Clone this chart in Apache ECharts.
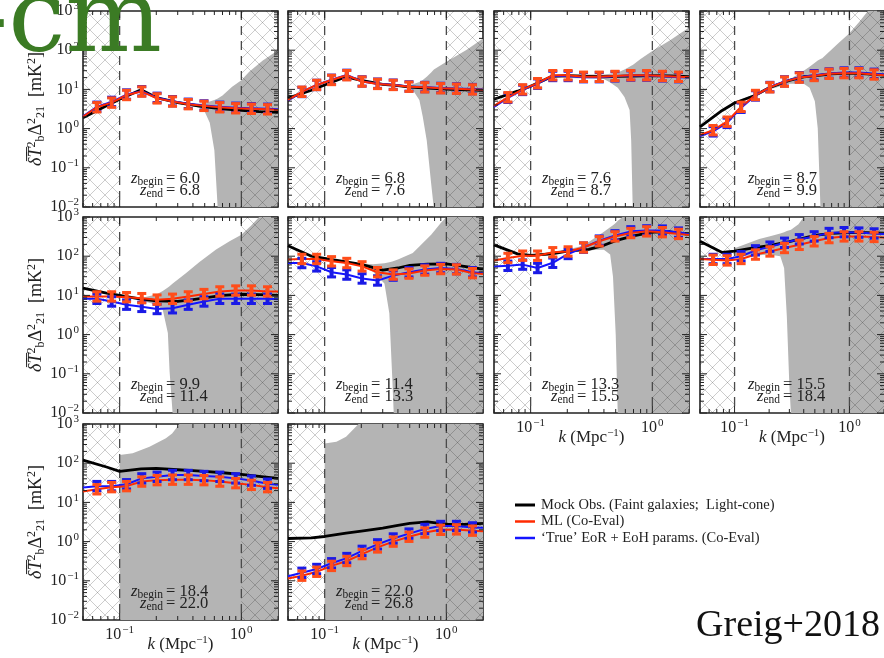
<!DOCTYPE html>
<html>
<head>
<meta charset="utf-8">
<script src="https://cdn.jsdelivr.net/npm/echarts@6/dist/echarts.min.js"></script>
<style>
  html, body { margin: 0; padding: 0; background: #fff; }
  #chart { width: 884px; height: 658px; }
</style>
</head>
<body>
<div id="chart"></div>
<script>
// ---- k sampling -------------------------------------------------------
const K_MIN = 0.05, K_MAX = 2.0;            // plotted k range (Mpc^-1)
const K_CUT_LO = 0.1, K_CUT_HI = 1.0;       // analysed k window
const K_BINS = [0.065, 0.086, 0.114, 0.152, 0.203, 0.272, 0.366, 0.493, 0.665, 0.898, 1.21, 1.64];
const K_LINE = [0.05, 0.065, 0.086, 0.114, 0.152, 0.203, 0.272, 0.366, 0.493, 0.665, 0.898, 1.21, 1.64, 2.0];
const K_MOCK = [0.05, 0.078, 0.1, 0.15, 0.2, 0.3, 0.4, 0.5, 0.7, 1.0, 1.4, 2.0];
const ERR_DEX = 0.12;                        // half-height of error bars (dex)

// ---- redshift slices ----------------------------------------------------
const Z_BEGIN = ['6.0', '6.8', '7.6', '8.7', '9.9', '11.4', '13.3', '15.5', '18.4', '22.0'];
const Z_END   = ['6.8', '7.6', '8.7', '9.9', '11.4', '13.3', '15.5', '18.4', '22.0', '26.8'];

// ---- power spectra (mK^2): ML / true on K_LINE, mock on K_MOCK ----------
const mlZ60   = [2.0, 3.5, 4.6, 7.2, 8.8, 5.9, 4.9, 4.2, 3.8, 3.5, 3.3, 3.2, 3.1, 3.0];
const trueZ60 = [2.05, 3.6, 4.8, 7.4, 9.0, 6.1, 5.0, 4.3, 3.9, 3.6, 3.4, 3.3, 3.2, 3.1];
const mockZ60 = [1.9, 3.8, 5.6, 9.8, 6.2, 4.6, 4.0, 3.6, 3.2, 2.9, 2.7, 2.6];

const mlZ68   = [5.4, 8.7, 13, 17.4, 23, 15.8, 13.8, 13, 11.7, 11.3, 10.7, 10.4, 10, 9.8];
const trueZ68 = [5.2, 8.6, 13, 17.6, 23.5, 16, 14, 13.2, 11.9, 11.5, 10.9, 10.6, 10.2, 10];
const mockZ68 = [6.0, 9.5, 13, 21, 17, 13.5, 12.5, 11.5, 10.8, 10.2, 9.8, 9.4];

const mlZ76   = [3.8, 6.3, 10, 14.4, 23, 23, 21, 21, 22, 23, 23, 22, 21, 20.5];
const trueZ76 = [3.6, 6.1, 9.7, 14, 22, 22, 20.5, 20.5, 21.5, 22.5, 22.5, 21.5, 20.5, 20];
const mockZ76 = [5.6, 9, 12, 21.5, 22.5, 21.5, 21, 21.5, 22, 22.5, 22, 21];

const mlZ87   = [0.69, 0.91, 1.5, 3.6, 7.2, 11.3, 15.8, 20, 22, 25, 26, 26, 24, 23];
const trueZ87 = [0.65, 0.85, 1.4, 3.4, 7.0, 11.5, 16, 20.5, 23, 25.5, 27, 27, 25, 24];
const mockZ87 = [1.1, 2.9, 4.5, 7.0, 11, 17, 21, 22, 25, 26, 25, 23];

const mlZ99   = [9.4, 9.4, 9.4, 9, 8.5, 7.8, 8.2, 9.4, 10.8, 12.6, 13.3, 13.3, 12.6, 12.5];
const trueZ99 = [8.2, 8.2, 7.0, 5.8, 5.1, 4.5, 4.7, 5.8, 7.0, 8.2, 8.2, 8.2, 8.2, 8.0];
const mockZ99 = [15.4, 11.5, 10, 8, 7.3, 7.0, 7.8, 8.6, 10, 10.7, 10.5, 10];

const mlZ114   = [82, 85, 85, 74, 67, 55, 39, 34, 36, 43, 47, 46, 37, 35];
const trueZ114 = [67, 67, 55, 39, 34, 27, 24, 32, 39, 46, 50, 47, 39, 37];
const mockZ114 = [185, 100, 88, 72, 62, 44, 50, 58, 63, 64, 55, 47];

const mlZ133   = [78, 90, 103, 103, 126, 132, 167, 240, 320, 390, 430, 410, 370, 350];
const trueZ133 = [55, 57, 61, 50, 68, 114, 165, 250, 340, 430, 455, 450, 400, 380];
const mockZ133 = [195, 115, 105, 115, 135, 150, 190, 250, 330, 410, 420, 360];

const mlZ155   = [85, 81, 78, 85, 110, 132, 162, 195, 240, 290, 320, 320, 310, 300];
const trueZ155 = [85, 85, 85, 100, 141, 175, 220, 270, 320, 390, 410, 400, 380, 370];
const mockZ155 = [240, 125, 135, 165, 185, 235, 290, 340, 380, 400, 400, 390];

const mlZ184   = [19, 21.6, 24.5, 26, 34, 37, 38, 38, 37, 34, 31, 28, 24.5, 23];
const trueZ184 = [24, 26, 26, 29, 41, 45, 50, 50, 47, 45, 41, 36, 30, 28];
const mockZ184 = [120, 80, 62, 72, 74, 68, 65, 62, 57, 52, 46, 41];

const mlZ220   = [0.115, 0.135, 0.17, 0.24, 0.32, 0.48, 0.71, 1.0, 1.33, 1.7, 2.0, 2.05, 1.9, 1.85];
const trueZ220 = [0.13, 0.16, 0.2, 0.28, 0.38, 0.58, 0.85, 1.2, 1.6, 2.1, 2.5, 2.5, 2.3, 2.25];
const mockZ220 = [1.2, 1.25, 1.35, 1.65, 1.85, 2.2, 2.6, 2.9, 3.2, 2.8, 2.75, 2.9];

// ---- thermal-noise band around the mock (lower 0 = no lower bound) ------
const bandKZ60  = [0.1, 0.15, 0.2, 0.3, 0.4, 0.45, 0.5, 0.55, 0.6, 0.64, 0.7, 0.84, 1.0, 1.16, 1.5, 2.0];
const bandHiZ60 = [5.9, 10.2, 6.5, 4.9, 4.3, 4.3, 4.5, 4.9, 5.4, 5.9, 7.0, 11.7, 17, 28, 55, 100];
const bandLoZ60 = [5.3, 9.4, 5.9, 4.3, 3.7, 3.4, 2.7, 1.4, 0.28, 0, 0, 0, 0, 0, 0, 0];

const bandKZ68  = [0.1, 0.15, 0.2, 0.3, 0.4, 0.47, 0.53, 0.6, 0.64, 0.69, 0.75, 0.79, 1.0, 1.46, 2.0];
const bandHiZ68 = [13.6, 22, 17.8, 14.2, 13.2, 12.8, 13.5, 15.5, 17.4, 21, 27, 32, 51, 101, 200];
const bandLoZ68 = [12.4, 20, 16.2, 12.8, 11.8, 11, 9.6, 5.4, 2.0, 0.5, 0.04, 0, 0, 0, 0];

const bandKZ76  = [0.1, 0.15, 0.2, 0.3, 0.4, 0.45, 0.52, 0.59, 0.65, 0.67, 0.69, 0.8, 1.0, 1.4, 2.0];
const bandHiZ76 = [12.6, 22.5, 24, 24, 24, 25, 27, 32, 38, 40, 42, 60, 95, 180, 380];
const bandLoZ76 = [11.4, 20, 19.5, 19, 18.5, 15, 11, 6.4, 3, 0.5, 0, 0, 0, 0, 0];

const bandKZ87  = [0.1, 0.15, 0.2, 0.3, 0.4, 0.45, 0.5, 0.53, 0.56, 0.58, 0.8, 1.0, 1.2, 1.45, 2.0];
const bandHiZ87 = [4.8, 7.5, 11.8, 18, 30, 38, 48, 55, 60, 62, 150, 270, 500, 1000, 3000];
const bandLoZ87 = [4.2, 6.5, 10, 14, 14, 11, 5, 1, 0, 0, 0, 0, 0, 0, 0];

const bandKZ99  = [0.1, 0.15, 0.2, 0.226, 0.249, 0.257, 0.273, 0.35, 0.45, 0.62, 0.8, 1.0, 1.2, 1.4, 2.0];
const bandHiZ99 = [10.5, 8.6, 10.5, 13, 16, 17, 20, 37, 70, 148, 240, 355, 600, 1000, 3000];
const bandLoZ99 = [9.5, 7.4, 5.8, 4.3, 1.1, 0.12, 0, 0, 0, 0, 0, 0, 0, 0, 0];

const bandKZ114  = [0.1, 0.15, 0.2, 0.25, 0.31, 0.34, 0.36, 0.37, 0.4, 0.53, 0.6, 0.75, 0.9, 1.0, 2.0];
const bandHiZ114 = [92, 75, 65, 62, 66, 70, 73, 75, 82, 120, 178, 350, 700, 1000, 5000];
const bandLoZ114 = [84, 69, 55, 40, 20, 3.5, 0.07, 0, 0, 0, 0, 0, 0, 0, 0];

const bandKZ133  = [0.1, 0.15, 0.2, 0.25, 0.3, 0.35, 0.4, 0.45, 0.475, 0.5, 0.52, 0.57, 0.8, 2.0];
const bandHiZ133 = [110, 130, 148, 175, 230, 320, 420, 550, 620, 700, 800, 1000, 3000, 5000];
const bandLoZ133 = [100, 118, 125, 135, 140, 145, 145, 110, 30, 1, 0, 0, 0, 0];

const bandKZ155  = [0.1, 0.164, 0.2, 0.25, 0.27, 0.285, 0.3, 0.31, 0.36, 0.4, 0.6, 2.0];
const bandHiZ155 = [160, 275, 320, 380, 410, 440, 460, 474, 650, 1000, 3000, 5000];
const bandLoZ155 = [100, 105, 110, 100, 50, 3, 0.05, 0, 0, 0, 0, 0];

const bandKZ184  = [0.1, 0.128, 0.176, 0.24, 0.27, 0.31, 0.5, 2.0];
const bandHiZ184 = [162, 180, 263, 430, 575, 1000, 5000, 5000];
const bandLoZ184 = [0, 0, 0, 0, 0, 0, 0, 0];

const bandKZ220  = [0.1, 0.125, 0.15, 0.19, 0.3, 2.0];
const bandHiZ220 = [320, 350, 470, 1000, 5000, 5000];
const bandLoZ220 = [0, 0, 0, 0, 0, 0];

// ---- legend -------------------------------------------------------------
const LEGEND_LABELS = [
  'Mock Obs. (Faint galaxies;  Light-cone)',
  'ML (Co-Eval)',
  '\u2018True\u2019 EoR + EoH params. (Co-Eval)'
];

// ---- panel table built from the arrays above -----------------------------
const PANELS = [
  { ml: mlZ60,  tr: trueZ60,  mock: mockZ60,  bk: bandKZ60,  lo: bandLoZ60,  hi: bandHiZ60 },
  { ml: mlZ68,  tr: trueZ68,  mock: mockZ68,  bk: bandKZ68,  lo: bandLoZ68,  hi: bandHiZ68 },
  { ml: mlZ76,  tr: trueZ76,  mock: mockZ76,  bk: bandKZ76,  lo: bandLoZ76,  hi: bandHiZ76 },
  { ml: mlZ87,  tr: trueZ87,  mock: mockZ87,  bk: bandKZ87,  lo: bandLoZ87,  hi: bandHiZ87 },
  { ml: mlZ99,  tr: trueZ99,  mock: mockZ99,  bk: bandKZ99,  lo: bandLoZ99,  hi: bandHiZ99 },
  { ml: mlZ114, tr: trueZ114, mock: mockZ114, bk: bandKZ114, lo: bandLoZ114, hi: bandHiZ114 },
  { ml: mlZ133, tr: trueZ133, mock: mockZ133, bk: bandKZ133, lo: bandLoZ133, hi: bandHiZ133 },
  { ml: mlZ155, tr: trueZ155, mock: mockZ155, bk: bandKZ155, lo: bandLoZ155, hi: bandHiZ155 },
  { ml: mlZ184, tr: trueZ184, mock: mockZ184, bk: bandKZ184, lo: bandLoZ184, hi: bandHiZ184 },
  { ml: mlZ220, tr: trueZ220, mock: mockZ220, bk: bandKZ220, lo: bandLoZ220, hi: bandHiZ220 }
];

// ---- layout & style -------------------------------------------------------
const GRID_LEFT = [83, 288, 494, 700];
const GRID_TOP = [11, 217, 424];
const GRID_W = 195, GRID_H = 196;
const X_LABELLED = [6, 7, 8, 9];
const SERIF = "'Liberation Serif', 'DejaVu Serif', serif";
const INK = '#222';
const GRAY = '#b4b4b4';
const C_MOCK = '#000000', C_ML = '#ff2a00', C_TRUE = '#1414ff';
const C_ML_ERR = '#ff4d1a', C_TRUE_ERR = '#1a1ae6';

const MANT = [2, 3, 4, 5, 6, 7, 8, 9];
const X_MAJOR = [0.1, 1];
const X_MINOR = [];
[0.01, 0.1, 1].forEach(d => MANT.forEach(m => { const v = m * d; if (v > K_MIN * 0.999 && v < K_MAX * 1.001) X_MINOR.push(v); }));
const Y_MAJOR = [0.01, 0.1, 1, 10, 100, 1000];
const Y_MINOR = [];
[0.01, 0.1, 1, 10, 100].forEach(d => MANT.forEach(m => Y_MINOR.push(m * d)));

// cross-hatch tile
function makeHatch() {
  const s = 15;
  const c = document.createElement('canvas');
  c.width = s; c.height = s;
  const g = c.getContext('2d');
  g.strokeStyle = 'rgba(0,0,0,0.2)';
  g.lineWidth = 1;
  g.beginPath();
  g.moveTo(-1, -1); g.lineTo(s + 1, s + 1);
  g.moveTo(s + 1, -1); g.lineTo(-1, s + 1);
  g.stroke();
  return c;
}
const HATCH = { type: 'pattern', image: makeHatch(), repeat: 'repeat' };

function fmtPow(v) {
  const e = Math.round(Math.log10(v));
  return '10{e|' + (e < 0 ? '\u2212' + (-e) : String(e)) + '}';
}

const grids = [], xAxes = [], yAxes = [], series = [], graphics = [];

PANELS.forEach((p, i) => {
  const row = Math.floor(i / 4), col = i % 4;
  const left = GRID_LEFT[col], top = GRID_TOP[row];
  grids.push({ left, top, width: GRID_W, height: GRID_H, show: true,
               borderColor: INK, borderWidth: 1.6, backgroundColor: '#fff' });

  const showX = X_LABELLED.indexOf(i) >= 0;
  const showY = col === 0;

  xAxes.push({
    gridIndex: i, type: 'log', logBase: 10, min: K_MIN, max: K_MAX,
    axisLine: { show: false }, axisTick: { show: false }, splitLine: { show: false },
    axisLabel: {
      show: showX, showMinLabel: false, showMaxLabel: false, margin: 5,
      formatter: fmtPow, fontFamily: SERIF, fontSize: 16, color: INK,
      rich: { e: { fontFamily: SERIF, fontSize: 11, color: INK, padding: [0, 0, 9, 1], verticalAlign: 'middle' } }
    },
    name: showX ? '{i|k} (Mpc{e|\u22121})' : '',
    nameLocation: 'middle', nameGap: 15, nameMoveOverlap: false,
    nameTextStyle: {
      fontFamily: SERIF, fontSize: 17, color: INK,
      rich: {
        i: { fontFamily: SERIF, fontSize: 17, fontStyle: 'italic', color: INK },
        e: { fontFamily: SERIF, fontSize: 11, color: INK, padding: [0, 0, 9, 0] }
      }
    }
  });

  yAxes.push({
    gridIndex: i, type: 'log', logBase: 10, min: 0.01, max: 1000,
    axisLine: { show: false }, axisTick: { show: false }, splitLine: { show: false },
    axisLabel: {
      show: showY, margin: 4, formatter: fmtPow, fontFamily: SERIF, fontSize: 16, color: INK,
      rich: { e: { fontFamily: SERIF, fontSize: 11, color: INK, padding: [0, 0, 9, 1], verticalAlign: 'middle' } }
    },
    name: showY ? '{o|\u03b4\u0305T\u0305}{e|2}{s|b}{n|\u0394}{e|2}{s|21}{n|  [mK}{e|2}{n|]}' : '',
    nameLocation: 'middle', nameRotate: 90, nameGap: 36, nameMoveOverlap: false,
    nameTextStyle: {
      fontFamily: SERIF, fontSize: 18, color: INK,
      rich: {
        o: { fontFamily: SERIF, fontSize: 18, fontStyle: 'italic', color: INK },
        n: { fontFamily: SERIF, fontSize: 18, color: INK },
        e: { fontFamily: SERIF, fontSize: 12, color: INK, padding: [0, 0, 9, 0] },
        s: { fontFamily: SERIF, fontSize: 12, color: INK, padding: [8, 0, 0, 0] }
      }
    }
  });

  // noise band
  series.push({
    type: 'custom', xAxisIndex: i, yAxisIndex: i, clip: true, silent: true, z: 1,
    data: [[1, 1]],
    renderItem(params, api) {
      const cs = params.coordSys;
      const bottom = cs.y + cs.height + 2;
      const upper = [], lower = [];
      for (let j = 0; j < p.bk.length; j++) {
        upper.push(api.coord([p.bk[j], p.hi[j]]));
        const x = api.coord([p.bk[j], 1])[0];
        lower.push(p.lo[j] > 0 ? api.coord([p.bk[j], p.lo[j]]) : [x, bottom]);
      }
      return { type: 'polygon', shape: { points: upper.concat(lower.reverse()) },
               style: { fill: GRAY } };
    }
  });

  // excluded k ranges: hatch + dashed boundary
  series.push({
    type: 'custom', xAxisIndex: i, yAxisIndex: i, clip: true, silent: true, z: 2,
    data: [[K_MIN, K_CUT_LO, K_CUT_LO], [K_CUT_HI, K_MAX, K_CUT_HI]],
    encode: { x: [0, 1, 2] },
    renderItem(params, api) {
      const cs = params.coordSys;
      const x0 = api.coord([api.value(0), 1])[0];
      const x1 = api.coord([api.value(1), 1])[0];
      const xe = api.coord([api.value(2), 1])[0];
      return { type: 'group', children: [
        { type: 'rect', shape: { x: x0, y: cs.y, width: x1 - x0, height: cs.height },
          style: { fill: HATCH } },
        { type: 'line', shape: { x1: xe, y1: cs.y, x2: xe, y2: cs.y + cs.height },
          style: { stroke: '#4a4a4a', lineWidth: 1.3, lineDash: [9, 6] } }
      ] };
    }
  });

  const lineSeries = (vals, ks, color, width, z) => ({
    type: 'line', xAxisIndex: i, yAxisIndex: i, z, silent: true,
    showSymbol: false, symbol: 'none', animation: false,
    lineStyle: { color, width, join: 'round' },
    data: ks.map((k, j) => [k, vals[j]])
  });
  series.push(lineSeries(p.mock, K_MOCK, C_MOCK, 2.8, 3));
  series.push(lineSeries(p.tr, K_LINE, C_TRUE, 2, 4));
  series.push(lineSeries(p.ml, K_LINE, C_ML, 2, 5));

  const errSeries = (vals, color, z) => ({
    type: 'custom', xAxisIndex: i, yAxisIndex: i, clip: true, silent: true, z,
    data: K_BINS.map((k, j) => [k, vals[j + 1]]),
    renderItem(params, api) {
      const k = api.value(0), v = api.value(1);
      const f = Math.pow(10, ERR_DEX);
      const a = api.coord([k, v * f]), b = api.coord([k, v / f]);
      const x = a[0], w = 4.5;
      return { type: 'group', children: [
        { type: 'line', shape: { x1: x, y1: a[1], x2: x, y2: b[1] }, style: { stroke: color, lineWidth: 4 } },
        { type: 'line', shape: { x1: x - w, y1: a[1], x2: x + w, y2: a[1] }, style: { stroke: color, lineWidth: 3 } },
        { type: 'line', shape: { x1: x - w, y1: b[1], x2: x + w, y2: b[1] }, style: { stroke: color, lineWidth: 3 } }
      ] };
    }
  });
  series.push(errSeries(p.tr, C_TRUE_ERR, 6));
  series.push(errSeries(p.ml, C_ML_ERR, 7));

  // inward ticks on all four sides
  series.push({
    type: 'custom', xAxisIndex: i, yAxisIndex: i, clip: false, silent: true, z: 9,
    data: [[1, 1]],
    renderItem(params, api) {
      const cs = params.coordSys;
      const L = cs.x, R = cs.x + cs.width, T = cs.y, B = cs.y + cs.height;
      const ch = [];
      const add = (x1, y1, x2, y2) => ch.push({ type: 'line', shape: { x1, y1, x2, y2 },
                                               style: { stroke: INK, lineWidth: 1 } });
      X_MAJOR.forEach(k => { const x = api.coord([k, 1])[0]; add(x, B, x, B - 7); add(x, T, x, T + 7); });
      X_MINOR.forEach(k => { const x = api.coord([k, 1])[0]; add(x, B, x, B - 4); add(x, T, x, T + 4); });
      Y_MAJOR.forEach(v => { const y = api.coord([1, v])[1]; add(L, y, L + 7, y); add(R, y, R - 7, y); });
      Y_MINOR.forEach(v => { const y = api.coord([1, v])[1]; add(L, y, L + 4, y); add(R, y, R - 4, y); });
      return { type: 'group', children: ch };
    }
  });

  // redshift annotation
  const eqX = left + 83, bottom = top + GRID_H;
  const zRich = {
    z: { fontFamily: SERIF, fontSize: 16.5, fontStyle: 'italic', fill: INK },
    s: { fontFamily: SERIF, fontSize: 11.5, fill: INK, padding: [6, 0, 0, 0] }
  };
  graphics.push(
    { type: 'text', x: eqX - 3, y: bottom - 28, z: 20,
      style: { text: '{z|z}{s|begin}', rich: zRich, align: 'right', verticalAlign: 'middle' } },
    { type: 'text', x: eqX, y: bottom - 28, z: 20,
      style: { text: '= ' + Z_BEGIN[i], font: '16.5px ' + SERIF, fill: INK, align: 'left', verticalAlign: 'middle' } },
    { type: 'text', x: eqX - 3, y: bottom - 16, z: 20,
      style: { text: '{z|z}{s|end}', rich: zRich, align: 'right', verticalAlign: 'middle' } },
    { type: 'text', x: eqX, y: bottom - 16, z: 20,
      style: { text: '= ' + Z_END[i], font: '16.5px ' + SERIF, fill: INK, align: 'left', verticalAlign: 'middle' } }
  );
});

// legend block
const LEGEND_COLORS = [C_MOCK, C_ML, C_TRUE];
const LEGEND_WIDTHS = [3, 2.5, 2.5];
LEGEND_LABELS.forEach((t, j) => {
  const y = 505 + j * 16.5;
  graphics.push(
    { type: 'line', shape: { x1: 515, y1: y, x2: 535, y2: y }, z: 20,
      style: { stroke: LEGEND_COLORS[j], lineWidth: LEGEND_WIDTHS[j] } },
    { type: 'text', x: 541, y: y, z: 20,
      style: { text: t, font: '14.5px ' + SERIF, fill: INK, align: 'left', verticalAlign: 'middle' } }
  );
});

// credit and heading fragment
graphics.push(
  { type: 'text', x: 880, y: 626, z: 30,
    style: { text: 'Greig+2018', font: '38px ' + SERIF, fill: '#111', align: 'right', verticalAlign: 'middle' } },
  { type: 'text', x: 162, y: 24, z: 30,
    style: { text: '21-cm', font: "102px 'DejaVu Serif', serif", fill: '#3b7b24', align: 'right', verticalAlign: 'middle' } }
);

const chart = echarts.init(document.getElementById('chart'), null, { renderer: 'canvas' });
chart.setOption({
  animation: false,
  backgroundColor: '#fff',
  grid: grids,
  xAxis: xAxes,
  yAxis: yAxes,
  series: series,
  graphic: graphics
});
</script>
</body>
</html>
